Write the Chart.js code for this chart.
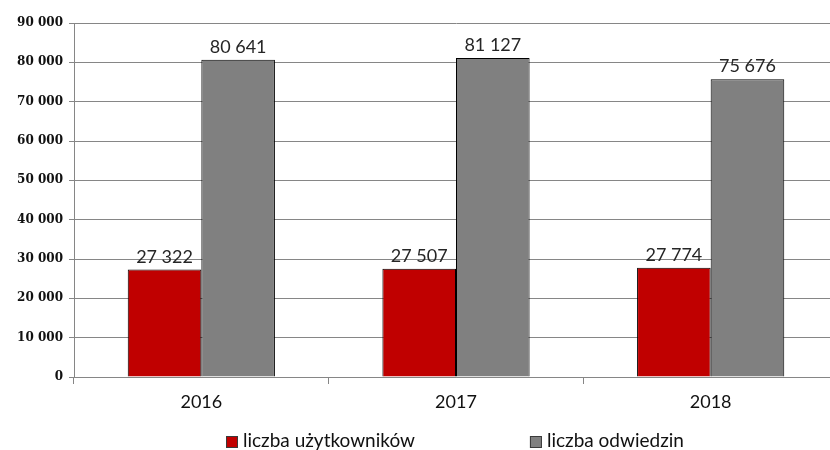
<!DOCTYPE html>
<html>
<head>
<meta charset="utf-8">
<script src="https://cdn.jsdelivr.net/npm/chart.js@4"></script>
<style>
  html, body { margin: 0; padding: 0; background: #fff; overflow: hidden; }
  #wrap { width: 838px; height: 450px; }
</style>
</head>
<body>
<div id="wrap"><canvas id="chart1" width="838" height="450"></canvas></div>
<script>
// data
var years      = ["2016", "2017", "2018"]
var users      = [27322, 27507, 27774]
var visits     = [80641, 81127, 75676]
var seriesName = ["liczba użytkowników", "liczba odwiedzin"]

const gridColor = "#868686"

// 80641 -> "80 641"
function fmt(v) {
  return String(v).replace(/\B(?=(\d{3})+(?!\d))/g, " ")
}

// values above the bars
const valueLabels = {
  id: "valueLabels",
  afterDatasetsDraw: function(chart) {
    const ctx = chart.ctx
    ctx.save()
    ctx.font = "18px Lato"
    ctx.fillStyle = "#262626"
    ctx.textAlign = "center"
    ctx.textBaseline = "alphabetic"
    chart.data.datasets.forEach(function(ds, i) {
      chart.getDatasetMeta(i).data.forEach(function(bar, j) {
        ctx.fillText(fmt(ds.data[j]), bar.x, bar.y - 7)
      })
    })
    ctx.restore()
  }
}

// legend drawn by hand, the built-in one spaces the items too tightly
const bottomLegend = {
  id: "bottomLegend",
  afterDraw: function(chart) {
    const ctx = chart.ctx
    const gap = 115
    const box = 12
    let x = chart.chartArea.left + 152
    const baseline = chart.height - 3
    ctx.save()
    ctx.font = "19px Lato"
    ctx.textBaseline = "alphabetic"
    chart.data.datasets.forEach(function(ds) {
      ctx.fillStyle = ds.backgroundColor
      ctx.fillRect(x, baseline - 11, box, box)
      ctx.strokeStyle = "#3a3a3a"
      ctx.lineWidth = 1
      ctx.strokeRect(x + 0.5, baseline - 10.5, box - 1, box - 1)
      ctx.fillStyle = "#111"
      ctx.fillText(ds.label, x + box + 5, baseline)
      x += box + 5 + ctx.measureText(ds.label).width + gap
    })
    ctx.restore()
  }
}

const data = {
  labels: years,
  datasets: [{
    label: seriesName[0],
    data: users,
    backgroundColor: "#c00000",
    borderColor: "#000",
    borderWidth: 1
  }, {
    label: seriesName[1],
    data: visits,
    backgroundColor: "#808080",
    borderColor: "#000",
    borderWidth: 1
  }]
}

const config = {
  type: "bar",
  data: data,
  options: {
    responsive: false,
    animation: false,
    layout: { padding: { top: 23, right: 0, left: 0, bottom: 33 } },
    datasets: {
      bar: { categoryPercentage: 0.578, barPercentage: 1 }
    },
    scales: {
      x: {
        grid: { offset: true, drawOnChartArea: false, color: gridColor, tickLength: 7 },
        border: { color: gridColor },
        ticks: { font: { family: "Lato", size: 18 }, color: "#111", padding: 7 },
        afterFit: function(s) { s.height = 40 }
      },
      y: {
        min: 0, max: 90000,
        grid: { color: gridColor, tickLength: 5 },
        border: { color: gridColor },
        ticks: {
          stepSize: 10000,
          font: { family: "DejaVu Serif", size: 12, weight: "bold" },
          color: "#111",
          padding: 6,
          callback: function(v) { return fmt(v) }
        },
        afterFit: function(s) { s.width = 74 }
      }
    },
    plugins: {
      tooltip: { enabled: false },
      legend: { display: false }
    }
  },
  plugins: [valueLabels, bottomLegend]
}

const myChart = new Chart(document.getElementById("chart1").getContext("2d"), config)
</script>
</body>
</html>
